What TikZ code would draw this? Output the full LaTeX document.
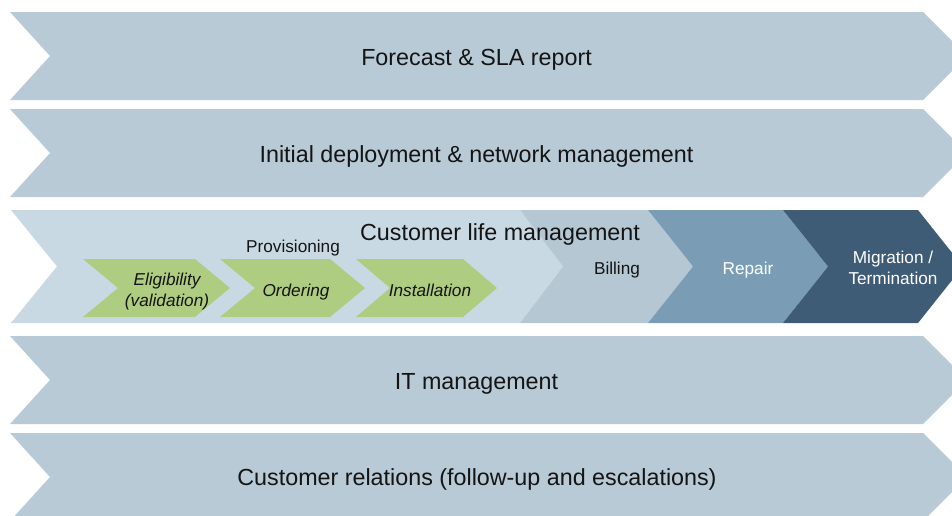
\documentclass[tikz,border=0pt]{standalone}
\usepackage{fontspec}
\setmainfont{Liberation Sans}
\definecolor{rowblue}{RGB}{184,202,214}
\definecolor{lightblue}{RGB}{201,217,227}
\definecolor{billblue}{RGB}{181,199,211}
\definecolor{repairblue}{RGB}{122,157,181}
\definecolor{darkblue}{RGB}{63,92,119}
\definecolor{greenchev}{RGB}{175,205,128}
\definecolor{txt}{RGB}{20,20,20}
% x1 x2 top bottom depthLeft depthRight
\newcommand{\chevpath}[6]{(#1,#3) -- (#2,#3) -- ({#2+#6},{(#3+#4)/2}) -- (#2,#4) -- (#1,#4) -- ({#1+#5},{(#3+#4)/2}) -- cycle}
\tikzset{
  rowfill/.style={fill=rowblue, draw=none},
  mainlbl/.style={font=\fontsize{23.3}{28}\selectfont, text=txt, inner sep=0pt, text height=16.7pt, text depth=0pt},
  sublbl/.style={font=\fontsize{17.2}{21}\selectfont, text=txt, inner sep=0pt, text height=12.3pt, text depth=0pt},
  multilbl/.style={font=\fontsize{17.2}{21.5}\selectfont, text=txt, inner sep=0pt, align=center},
  greenlbl/.style={sublbl, font=\fontsize{17.2}{21}\selectfont\itshape},
}
\begin{document}
\begin{tikzpicture}[x=1pt, y=-1pt]
\useasboundingbox (0,0) rectangle (952,515);
\clip (0,0) rectangle (952,515);
% rows
\fill[rowfill] \chevpath{10}{923}{12}{100}{40}{44};
\fill[rowfill] \chevpath{10}{923}{109}{197}{40}{44};
\fill[rowfill] \chevpath{10}{923}{336}{424}{40}{44};
\fill[rowfill] \chevpath{10}{923}{433}{521}{40}{44};
% customer life row
\fill[lightblue] \chevpath{11}{520}{210}{323}{46}{43};
\fill[billblue] \chevpath{520}{648}{210}{323}{43}{45};
\fill[repairblue] \chevpath{648}{783}{210}{323}{45}{45};
\fill[darkblue] \chevpath{783}{918}{210}{323}{45}{45};
% green steps
\fill[greenchev] \chevpath{83}{195}{259}{317}{35}{35};
\fill[greenchev] \chevpath{220}{330}{259}{317}{35}{35};
\fill[greenchev] \chevpath{356}{463}{259}{317}{34}{34};
% labels
\node[mainlbl] (forecast) at (476.5,57) {Forecast \& SLA report};
\node[mainlbl] (deploy) at (476.5,154) {Initial deployment \& network management};
\node[mainlbl] (clm) at (500,232) {Customer life management};
\node[mainlbl] (it) at (476.5,381) {IT management};
\node[mainlbl] (crel) at (477,477) {Customer relations (follow-up and escalations)};
\node[sublbl] (prov) at (293,246) {Provisioning};
\node[multilbl, font=\fontsize{17.2}{21}\selectfont\itshape] (elig) at (167,292) {Eligibility\\(validation)};
\node[greenlbl] (order) at (296,290) {Ordering};
\node[greenlbl] (install) at (430,290) {Installation};
\node[sublbl] (bill) at (617,268) {Billing};
\node[sublbl, text=white] (repair) at (748,268) {Repair};
\node[multilbl, text=white] (migr) at (893,268) {Migration /\\Termination};
\end{tikzpicture}
\end{document}
